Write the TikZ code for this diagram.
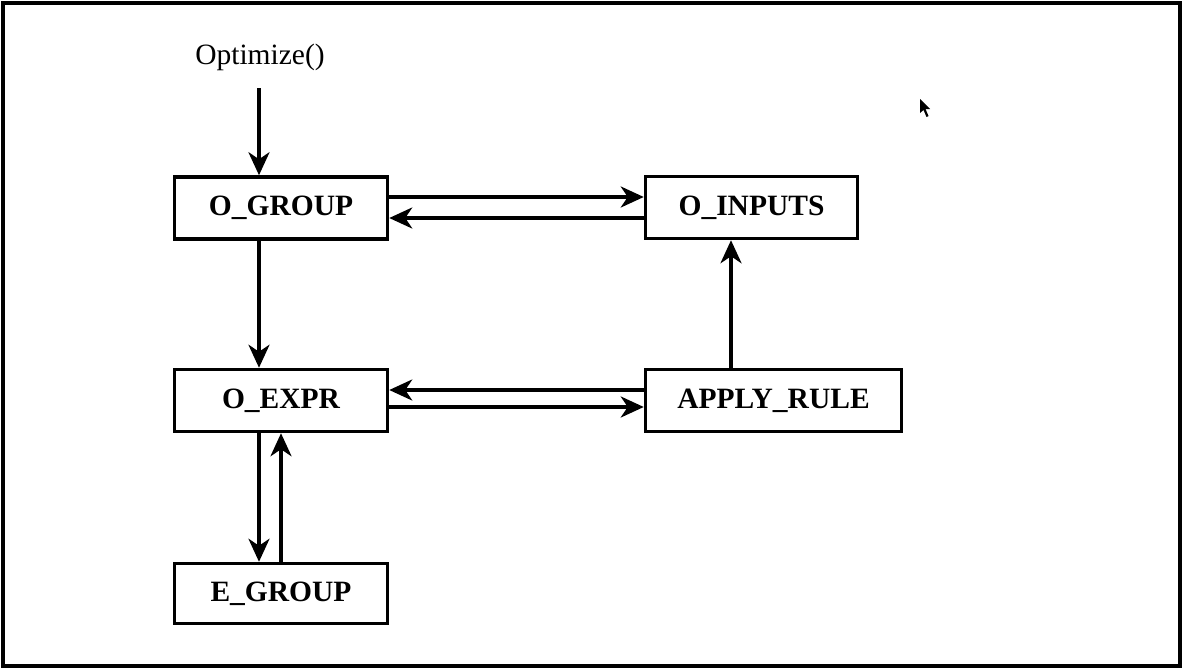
\documentclass[tikz,border=0pt]{standalone}
\usepackage{fontspec}
\setmainfont{Liberation Serif}
\usetikzlibrary{arrows.meta}
\begin{document}
\begin{tikzpicture}[x=1pt,y=-1pt,
  box/.style={draw=black,line width=3.5pt,fill=white,inner sep=0pt,
    font=\fontsize{29.5}{34}\selectfont\bfseries},
  arr/.style={line width=3.5pt,-{Stealth[length=23pt,width=21pt,inset=7pt]}}]
\useasboundingbox (0,0) rectangle (1182,669);
\draw[line width=4pt] (2.5,3) rectangle (1179.5,666);
\node[box,minimum width=213pt,minimum height=62pt] (og) at (281,208) {O\_GROUP};
\node[box,minimum width=212pt,minimum height=62pt] (oi) at (751.5,207.5) {O\_INPUTS};
\node[box,minimum width=213pt,minimum height=62pt] (oe) at (281,400.5) {O\_EXPR};
\node[box,minimum width=256pt,minimum height=62pt] (ar) at (773.5,400.5) {APPLY\_RULE};
\node[box,minimum width=213pt,minimum height=60pt] (eg) at (281,593.5) {E\_GROUP};
\node[font=\fontsize{29.5}{34}\selectfont] (opt) at (260,57) {Optimize()};
\coordinate (s) at (259,88);
\draw[arr] (s) -- (s |- og.north);
\draw[arr] (og.east |- 0,197) -- (oi.west |- 0,197);
\draw[arr] (oi.west |- 0,218) -- (og.east |- 0,218);
\draw[arr] (og.south -| 259,0) -- (oe.north -| 259,0);
\draw[arr] (ar.west |- 0,390) -- (oe.east |- 0,390);
\draw[arr] (oe.east |- 0,407) -- (ar.west |- 0,407);
\draw[arr] (ar.north -| 731,0) -- (oi.south -| 731,0);
\draw[arr] (oe.south -| 259,0) -- (eg.north -| 259,0);
\draw[arr] (eg.north -| 281,0) -- (oe.south -| 281,0);
\fill (920,99) -- (920,113) -- (923.5,110) -- (926.5,117) -- (928.5,116) -- (925.5,109) -- (930,109) -- cycle;
\end{tikzpicture}
\end{document}
